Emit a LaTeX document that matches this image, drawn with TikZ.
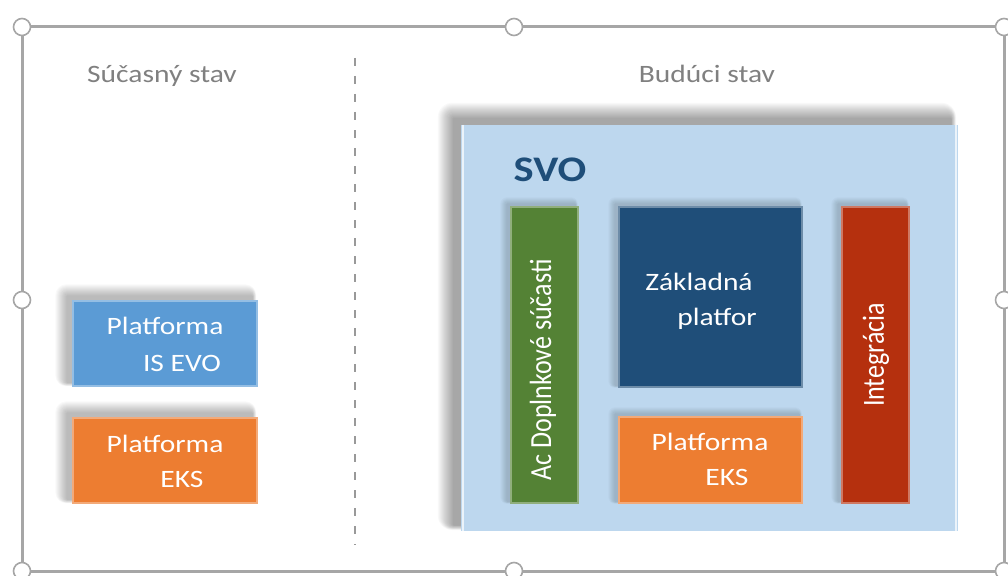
\documentclass[tikz,border=0pt]{standalone}
\usepackage{fontspec}
\setmainfont{Carlito}
\usepackage{graphicx}
\definecolor{evoblue}{HTML}{5B9BD5}
\definecolor{eksorange}{HTML}{ED7D31}
\definecolor{addgreen}{HTML}{548235}
\definecolor{basedark}{HTML}{1F4E79}
\definecolor{intred}{HTML}{B5300E}
\definecolor{svofill}{HTML}{BDD7EE}
\definecolor{headgray}{HTML}{808080}
\definecolor{framegray}{HTML}{A6A6A6}
\newcommand\hsc[1]{\scalebox{1.18}[1]{#1}}
\newcommand\vsc[1]{\scalebox{1}[1.18]{#1}}
\pgfdeclarelayer{bg}
\pgfdeclarelayer{shlo}
\pgfdeclarelayer{boxlayer}
\pgfdeclarelayer{shhi}
\pgfsetlayers{bg,shlo,boxlayer,shhi,main}
% #1 node, #2 x offset (left), #3 y offset (up), #4 blur steps, #5 opacity per step
\newcommand\softshadow[5]{%
  \foreach \r in {1,...,#4}{%
    \fill[black, opacity=#5, rounded corners=\r*0.9pt]
      ([xshift=-#2pt-\r*1pt, yshift=#3pt+\r*1pt]#1.north west) rectangle
      ([xshift=-#2pt+\r*0.3pt, yshift=#3pt-\r*0.3pt]#1.south east);
  }}
\begin{document}
\begin{tikzpicture}[x=1pt,y=-1pt,
  box/.style={draw=#1!65!white, line width=1.2pt, fill=#1, inner sep=0pt},
  btext/.style={text=white, font=\fontsize{25}{30}\selectfont, inner sep=0pt, anchor=base},
  vtext/.style={text=white, font=\fontsize{26}{30}\selectfont, inner sep=0pt, rotate=90},
  head/.style={text=headgray, font=\fontsize{25}{30}\selectfont, inner sep=0pt, anchor=base},
  handle/.style={circle, draw=framegray, fill=white, line width=1.6pt, minimum size=17pt, inner sep=0pt},
  sep/.style={draw=headgray!80, line width=1.8pt, dash pattern=on 8pt off 10pt}
]
\useasboundingbox (0,0) rectangle (1008,575);
\begin{pgfonlayer}{bg}
\fill[white] (0,0) rectangle (1008,575);
\end{pgfonlayer}

% headings and separator
\node[head] (cur) at (162,83) {\hsc{Súčasný stav}};
\node[head] (fut) at (707,83) {\hsc{Budúci stav}};
\coordinate (s1) at (355,58);
\coordinate (s2) at (355,545);
\draw[sep] (s1) -- (s2);

% left boxes
\node[box=evoblue, minimum width=184pt, minimum height=85pt] (evo) at (165,343.5) {};
\node[btext] (evo1) at (165,334) {\hsc{Platforma}};
\node[btext] (evo2) at (182,371) {\hsc{IS EVO}};

\node[box=eksorange, minimum width=184pt, minimum height=85pt] (eks) at (165,460.5) {};
\node[btext] (eks1) at (165,452) {\hsc{Platforma}};
\node[btext] (eks2) at (182,487) {\hsc{EKS}};

% SVO container
\begin{pgfonlayer}{boxlayer}
\node[fill=svofill, inner sep=0pt, minimum width=497pt, minimum height=406pt] (svo) at (709.5,328) {};
\draw[white!70!svofill, line width=2pt] ([xshift=2pt]svo.north west) -- ([xshift=2pt]svo.south west);
\draw[white!70!svofill, line width=2pt] ([xshift=-2pt]svo.north east) -- ([xshift=-2pt]svo.south east);
\end{pgfonlayer}
\node[text=basedark, font=\fontsize{36}{40}\selectfont\bfseries, inner sep=0pt, anchor=base] (svot) at (550,181) {\hsc{SVO}};

\node[box=addgreen, minimum width=67pt, minimum height=296pt] (add) at (544.5,355) {};
\node[vtext] (addt) at (543,370) {\vsc{Ac Doplnkové súčasti}};

\node[box=basedark, minimum width=183pt, minimum height=180pt] (base) at (710.5,297) {};
\node[btext] (base1) at (699,290) {\hsc{Základná}};
\node[btext] (base2) at (717,325) {\hsc{platfor}};

\node[box=eksorange, minimum width=183pt, minimum height=86pt] (eks3) at (710.5,460) {};
\node[btext] (eks31) at (710,450) {\hsc{Platforma}};
\node[btext] (eks32) at (727,485) {\hsc{EKS}};

\node[box=intred, minimum width=67pt, minimum height=296pt] (int) at (875.5,355) {};
\node[vtext] (intt) at (876,355) {\vsc{Integrácia}};

% shadows
\begin{pgfonlayer}{shlo}
\softshadow{svo}{7}{6}{16}{0.022}
\end{pgfonlayer}
\begin{pgfonlayer}{shhi}
\softshadow{evo}{5}{4}{12}{0.025}
\softshadow{eks}{5}{4}{12}{0.025}
\softshadow{add}{3}{2}{7}{0.025}
\softshadow{base}{3}{2}{7}{0.025}
\softshadow{eks3}{3}{2}{7}{0.025}
\softshadow{int}{3}{2}{7}{0.025}
\end{pgfonlayer}

% selection frame and handles
\draw[framegray, line width=3pt] (22,27) rectangle (1004,571);
\node[handle] (h1) at (22,27) {};
\node[handle] (h2) at (514,27) {};
\node[handle] (h3) at (1004,27) {};
\node[handle] (h4) at (22,300) {};
\node[handle] (h5) at (1004,300) {};
\node[handle] (h6) at (22,571) {};
\node[handle] (h7) at (514,571) {};
\node[handle] (h8) at (1004,571) {};
\end{tikzpicture}
\end{document}
